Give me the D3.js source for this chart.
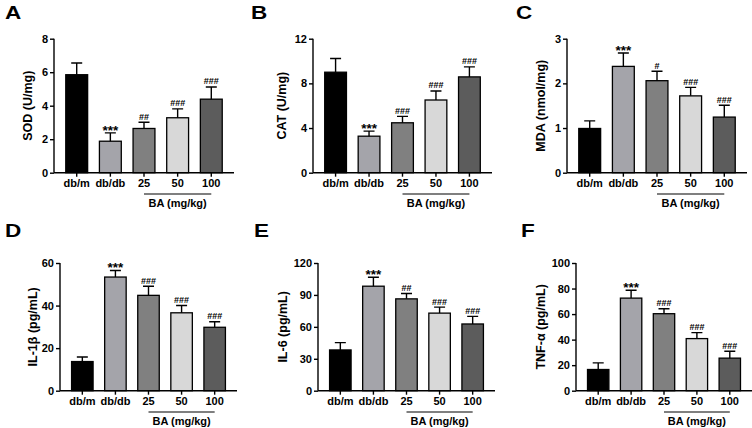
<!DOCTYPE html>
<html>
<head>
<meta charset="utf-8">
<script src="https://cdn.jsdelivr.net/npm/d3@7"></script>
<style>
  html, body { margin: 0; padding: 0; background: #fff; }
  svg { display: block; }
  text { font-family: "Liberation Sans", Arial, Helvetica, sans-serif; font-weight: bold; fill: #000; }
</style>
</head>
<body>
<svg id="chart" width="752" height="428"></svg>
<script>
// ---------- data ----------
const categories = ["db/m", "db/db", "25", "50", "100"];
const groupLabel = "BA (mg/kg)";

const sodMean = [5.85, 1.88, 2.64, 3.28, 4.39];
const sodSD   = [0.70, 0.50, 0.37, 0.53, 0.73];
const sodSig  = ["", "***", "##", "###", "###"];
const sodTicks = [0, 2, 4, 6, 8];

const catMean = [9.00, 3.27, 4.47, 6.51, 8.58];
const catSD   = [1.23, 0.45, 0.57, 0.81, 0.90];
const catSig  = ["", "***", "###", "###", "###"];
const catTicks = [0, 4, 8, 12];

const mdaMean = [0.99, 2.38, 2.06, 1.72, 1.245];
const mdaSD   = [0.17, 0.30, 0.21, 0.19, 0.265];
const mdaSig  = ["", "***", "#", "###", "###"];
const mdaTicks = [0, 1, 2, 3];

const il1bMean = [13.7, 53.4, 44.8, 36.6, 29.8];
const il1bSD   = [2.1, 3.1, 4.3, 3.4, 2.6];
const il1bSig  = ["", "***", "###", "###", "###"];
const il1bTicks = [0, 20, 40, 60];

const il6Mean = [38.3, 98.2, 86.3, 72.9, 62.7];
const il6SD   = [6.9, 8.4, 5.0, 5.6, 7.1];
const il6Sig  = ["", "***", "##", "###", "###"];
const il6Ticks = [0, 30, 60, 90, 120];

const tnfMean = [16.6, 72.5, 60.3, 40.8, 25.5];
const tnfSD   = [5.2, 6.2, 3.9, 4.7, 5.4];
const tnfSig  = ["", "***", "###", "###", "###"];
const tnfTicks = [0, 20, 40, 60, 80, 100];

const panelLetters = ["A", "B", "C", "D", "E", "F"];
const yTitles = ["SOD (U/mg)", "CAT (U/mg)", "MDA (nmol/mg)", "IL-1β (pg/mL)", "IL-6 (pg/mL)", "TNF-α (pg/mL)"];

// ---------- styles / layout ----------
const barColors = ["#000000", "#a4a4aa", "#808080", "#d8d8d8", "#5c5c5c"];

const panels = [
  { mean: sodMean, sd: sodSD, sig: sodSig, ticks: sodTicks, x0: 54,  w: 180, top: 38.7, base: 172.7, titleX: 28,  lx: 5,   ly: 19 },
  { mean: catMean, sd: catSD, sig: catSig, ticks: catTicks, x0: 313, w: 179, top: 38.7, base: 172.7, titleX: 282, lx: 251, ly: 19 },
  { mean: mdaMean, sd: mdaSD, sig: mdaSig, ticks: mdaTicks, x0: 567, w: 180, top: 38.7, base: 172.7, titleX: 541, lx: 516, ly: 19 },
  { mean: il1bMean, sd: il1bSD, sig: il1bSig, ticks: il1bTicks, x0: 60,  w: 177, top: 263, base: 390.7, titleX: 33,  lx: 5,   ly: 237 },
  { mean: il6Mean, sd: il6SD, sig: il6Sig, ticks: il6Ticks, x0: 318, w: 177, top: 263, base: 390.7, titleX: 283, lx: 254, ly: 237 },
  { mean: tnfMean, sd: tnfSD, sig: tnfSig, ticks: tnfTicks, x0: 576, w: 176, top: 263, base: 390.7, titleX: 541, lx: 521, ly: 237 }
];

const svg = d3.select("#chart");

panels.forEach((p, i) => {
  const g = svg.append("g");
  const x = d3.scaleBand().domain(categories).range([p.x0, p.x0 + p.w])
    .paddingInner(0.35).paddingOuter(0.35);
  const ymax = p.ticks[p.ticks.length - 1];
  const y = d3.scaleLinear().domain([0, ymax]).range([p.base, p.top]);
  const rows = categories.map((c, k) => ({ c, m: p.mean[k], s: p.sd[k], sig: p.sig[k], color: barColors[k] }));

  // bars
  g.selectAll("rect.bar").data(rows).join("rect")
    .attr("class", "bar")
    .attr("x", d => x(d.c))
    .attr("y", d => y(d.m))
    .attr("width", x.bandwidth())
    .attr("height", d => y(0) - y(d.m))
    .attr("fill", d => d.color)
    .attr("stroke", "#000")
    .attr("stroke-width", 1.3);

  // error bars (upper only)
  const cap = 5.5;
  g.selectAll("path.err").data(rows).join("path")
    .attr("class", "err")
    .attr("d", d => {
      const cx = x(d.c) + x.bandwidth() / 2;
      const yt = y(d.m + d.s), yb = y(d.m);
      return `M${cx},${yb}V${yt}M${cx - cap},${yt}H${cx + cap}`;
    })
    .attr("stroke", "#000").attr("stroke-width", 1.4).attr("fill", "none");

  // significance marks
  g.selectAll("text.sig").data(rows.filter(d => d.sig)).join("text")
    .attr("class", "sig")
    .attr("x", d => x(d.c) + x.bandwidth() / 2)
    .attr("y", d => y(d.m + d.s) + (d.sig.startsWith("*") ? 2 : -2.5))
    .attr("text-anchor", "middle")
    .attr("font-size", d => d.sig.startsWith("*") ? 13.5 : 9)
    .text(d => d.sig);

  // y axis
  const yAxis = d3.axisLeft(y).tickValues(p.ticks).tickSize(4).tickPadding(2).tickFormat(d3.format("d"));
  const ya = g.append("g").attr("transform", `translate(${p.x0},0)`).call(yAxis);
  ya.select(".domain").attr("d", `M0,${p.base}V${p.top}`);

  // x axis
  const xAxis = d3.axisBottom(x).tickSize(4).tickPadding(3);
  const xa = g.append("g").attr("transform", `translate(0,${p.base})`).call(xAxis);
  xa.select(".domain").attr("d", `M${p.x0},0H${p.x0 + p.w}`);

  [ya, xa].forEach(a => {
    a.selectAll(".domain").attr("stroke", "#000").attr("stroke-width", 1.4);
    a.selectAll(".tick line").attr("stroke", "#000").attr("stroke-width", 1.4);
    a.selectAll(".tick text").attr("font-size", 11).attr("font-family", null).attr("font-weight", "bold").attr("fill", "#000");
  });

  // group bracket under 25-100
  const cx25 = x("25") + x.bandwidth() / 2;
  const cx100 = x("100") + x.bandwidth() / 2;
  g.append("line")
    .attr("x1", cx25).attr("x2", cx100)
    .attr("y1", p.base + 21.3).attr("y2", p.base + 21.3)
    .attr("stroke", "#000").attr("stroke-width", 1.1);
  g.append("text")
    .attr("x", x("50") + x.bandwidth() / 2)
    .attr("y", p.base + 34)
    .attr("text-anchor", "middle")
    .attr("font-size", 11)
    .text(groupLabel);

  // y title
  g.append("text")
    .attr("transform", `translate(${p.titleX},${(p.base + p.top) / 2}) rotate(-90)`)
    .attr("text-anchor", "middle")
    .attr("dy", "0.35em")
    .attr("font-size", 12.5)
    .text(yTitles[i]);

  // panel letter
  g.append("text")
    .attr("transform", `translate(${p.lx},${p.ly}) scale(1.25,1)`)
    .attr("font-size", 18)
    .text(panelLetters[i]);
});
</script>
</body>
</html>
